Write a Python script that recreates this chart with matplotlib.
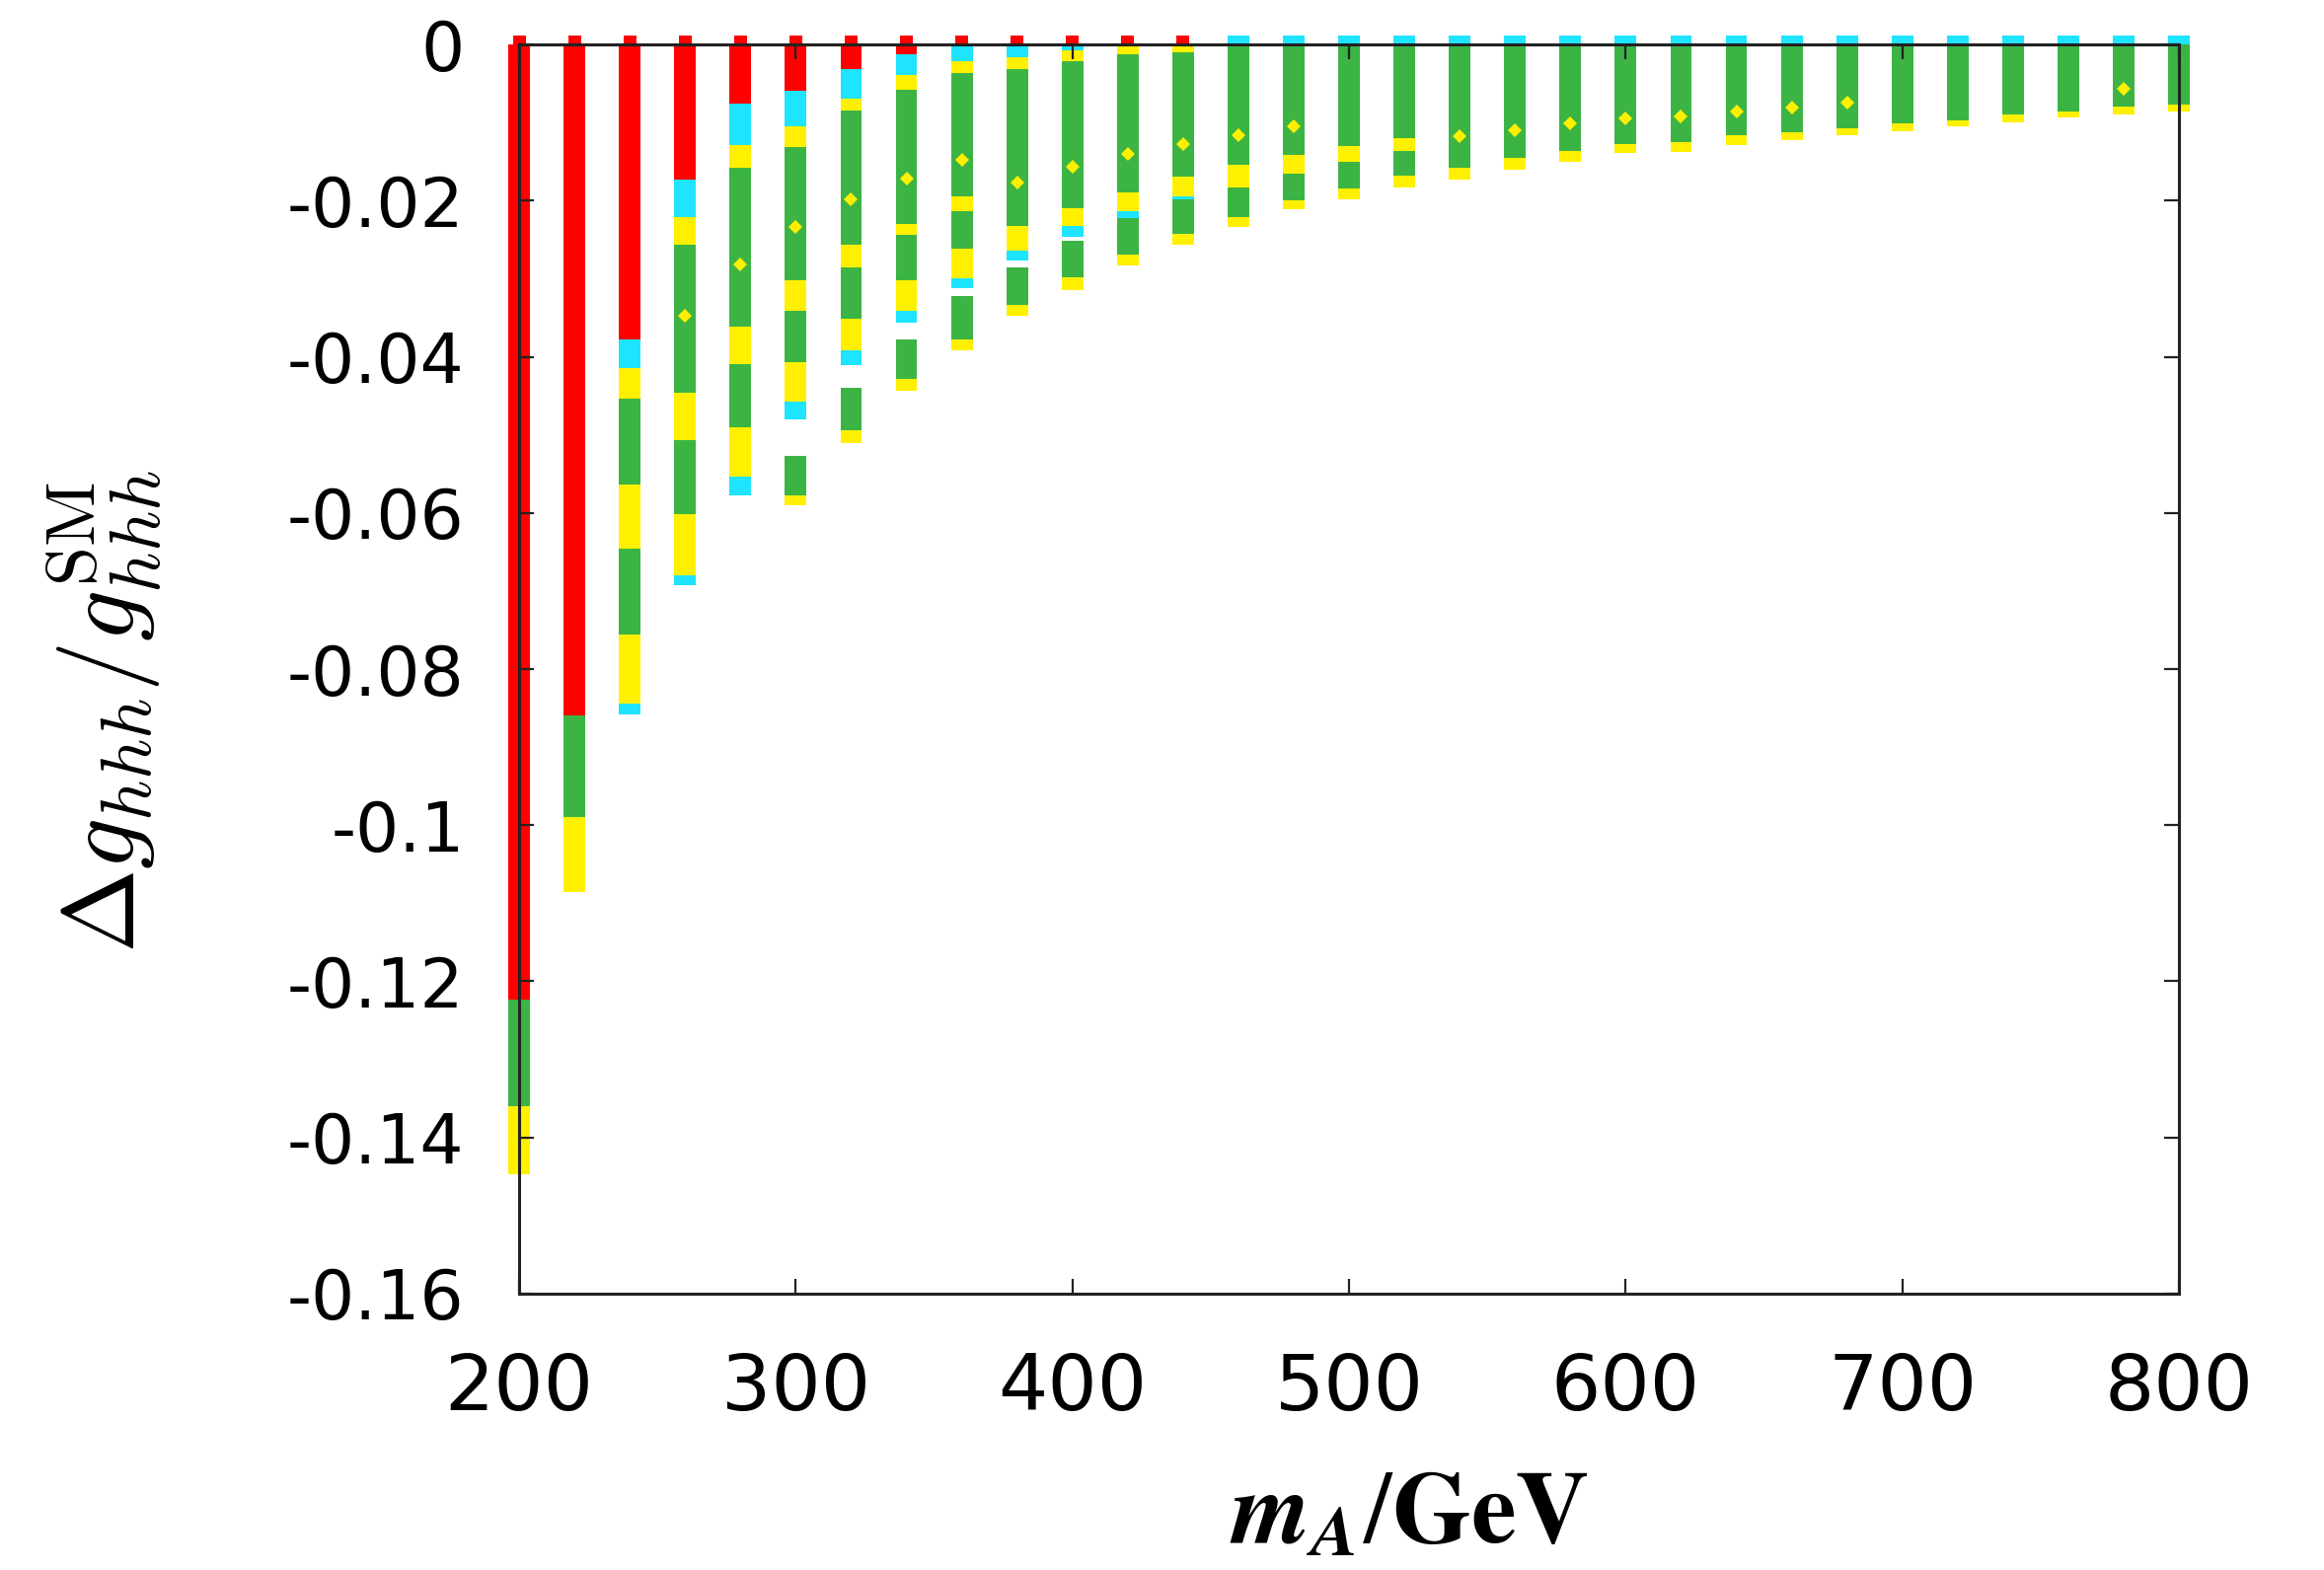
import matplotlib
matplotlib.use('Agg')
import matplotlib.pyplot as plt

# ---- data: (m_A, top, bottom) segments per colour ----
red_segs = [(200, 0, -0.1224), (220, 0, -0.0860), (240, 0, -0.0378), (260, 0, -0.0173),
            (280, 0, -0.0076), (300, 0, -0.0060), (320, 0, -0.0031), (340, 0, -0.0012),
            (360, 0, -0.0003)]
cyan_segs = [(240, -0.0378, -0.0415), (240, -0.0844, -0.0858),
             (260, -0.0173, -0.0221), (260, -0.0680, -0.0693),
             (280, -0.0076, -0.0129), (280, -0.0554, -0.0578),
             (300, -0.0060, -0.0105), (300, -0.0457, -0.0480),
             (320, -0.0031, -0.0070), (320, -0.0392, -0.0411),
             (340, -0.0012, -0.0039), (340, -0.0341, -0.0356),
             (360, -0.0003, -0.0022), (360, -0.0300, -0.0312),
             (380, 0, -0.0017), (380, -0.0264, -0.0277),
             (400, 0, -0.0007), (400, -0.0232, -0.0247),
             (420, -0.0213, -0.0223), (440, -0.0194, -0.0199)]
green_segs = [(200, -0.1224, -0.1360), (220, -0.0860, -0.0990),
              (240, -0.0454, -0.0564), (240, -0.0646, -0.0756),
              (260, -0.0257, -0.0446), (260, -0.0507, -0.0601),
              (280, -0.0158, -0.0362), (280, -0.0410, -0.0490),
              (300, -0.0131, -0.0302), (300, -0.0341, -0.0407), (300, -0.0527, -0.0578),
              (320, -0.0085, -0.0257), (320, -0.0286, -0.0351), (320, -0.0440, -0.0494),
              (340, -0.0058, -0.0230), (340, -0.0244, -0.0302), (340, -0.0378, -0.0428),
              (360, -0.0036, -0.0194), (360, -0.0213, -0.0261), (360, -0.0322, -0.0378),
              (380, -0.0031, -0.0232), (380, -0.0285, -0.0334),
              (400, -0.0022, -0.0210), (400, -0.0252, -0.0298),
              (420, -0.0012, -0.0189), (420, -0.0223, -0.0269),
              (440, -0.0010, -0.0169), (440, -0.0199, -0.0242),
              (460, 0, -0.0154), (460, -0.0183, -0.0221),
              (480, 0, -0.0141), (480, -0.0166, -0.0200),
              (500, 0, -0.0130), (500, -0.0150, -0.0185),
              (520, 0, -0.0120), (520, -0.0137, -0.0168),
              (540, 0, -0.0158), (560, 0, -0.0145), (580, 0, -0.0137), (600, 0, -0.0128),
              (620, 0, -0.0125), (640, 0, -0.0116), (660, 0, -0.0112), (680, 0, -0.0107),
              (700, 0, -0.0101), (720, 0, -0.0097), (740, 0, -0.0090), (760, 0, -0.0086),
              (780, 0, -0.0079), (800, 0, -0.0077)]
yellow_segs = [(200, -0.1360, -0.1447), (220, -0.0990, -0.1085),
               (240, -0.0415, -0.0454), (240, -0.0564, -0.0646), (240, -0.0756, -0.0844),
               (260, -0.0221, -0.0257), (260, -0.0446, -0.0507), (260, -0.0601, -0.0680),
               (280, -0.0129, -0.0158), (280, -0.0362, -0.0410), (280, -0.0490, -0.0554),
               (300, -0.0105, -0.0131), (300, -0.0302, -0.0341), (300, -0.0407, -0.0457), (300, -0.0578, -0.0590),
               (320, -0.0070, -0.0085), (320, -0.0257, -0.0286), (320, -0.0351, -0.0392), (320, -0.0494, -0.0511),
               (340, -0.0039, -0.0058), (340, -0.0230, -0.0244), (340, -0.0302, -0.0341), (340, -0.0428, -0.0443),
               (360, -0.0022, -0.0036), (360, -0.0194, -0.0213), (360, -0.0261, -0.0300), (360, -0.0378, -0.0392),
               (380, -0.0017, -0.0031), (380, -0.0232, -0.0264), (380, -0.0334, -0.0348),
               (400, -0.0007, -0.0022), (400, -0.0210, -0.0232), (400, -0.0298, -0.0315),
               (420, 0, -0.0012), (420, -0.0189, -0.0213), (420, -0.0269, -0.0283),
               (440, 0, -0.0010), (440, -0.0169, -0.0194), (440, -0.0242, -0.0257),
               (460, -0.0154, -0.0183), (460, -0.0221, -0.0234),
               (480, -0.0141, -0.0166), (480, -0.0200, -0.0211),
               (500, -0.0130, -0.0150), (500, -0.0185, -0.0198),
               (520, -0.0120, -0.0137), (520, -0.0168, -0.0183),
               (540, -0.0158, -0.0173), (560, -0.0145, -0.0160), (580, -0.0137, -0.0150),
               (600, -0.0128, -0.0139), (620, -0.0125, -0.0138), (640, -0.0116, -0.0129),
               (660, -0.0112, -0.0123), (680, -0.0107, -0.0116), (700, -0.0101, -0.0111),
               (720, -0.0097, -0.0105), (740, -0.0090, -0.0100), (760, -0.0086, -0.0094),
               (780, -0.0079, -0.0090), (800, -0.0077, -0.0086)]
# isolated yellow points inside the green bands
dot_mA = [260, 280, 300, 320, 340, 360, 380, 400, 420, 440, 460, 480, 540, 560, 580, 600, 620, 640, 660, 680, 780]
dot_y = [-0.0347, -0.0282, -0.0234, -0.0198, -0.0172, -0.0148, -0.0177, -0.0157, -0.0140, -0.0128,
         -0.0116, -0.0105, -0.0118, -0.0110, -0.0101, -0.0095, -0.0092, -0.0086, -0.0081, -0.0075, -0.0057]
# marker overflow above y=0
cap_red_mA = [200, 220, 240, 260, 280, 300, 320, 340, 360, 380, 400, 420, 440]
cap_cyan_mA = [460, 480, 500, 520, 540, 560, 580, 600, 620, 640, 660, 680, 700, 720, 740, 760, 780, 800]
cap_top = 0.0012

xticks = [200, 300, 400, 500, 600, 700, 800]
yticks = [0, -0.02, -0.04, -0.06, -0.08, -0.1, -0.12, -0.14, -0.16]
ytick_labels = ['0', '-0.02', '-0.04', '-0.06', '-0.08', '-0.1', '-0.12', '-0.14', '-0.16']

RED, CYAN, GREEN, YELLOW = '#ff0000', '#1ee4ff', '#3cb444', '#fff000'
W = 7.8

plt.rcParams['mathtext.fontset'] = 'cm'
fig = plt.figure(figsize=(23.55, 15.91), dpi=100)
ax = fig.add_axes([0.2234, 0.176, 0.7142, 0.7957])

for segs, col in [(red_segs, RED), (cyan_segs, CYAN), (green_segs, GREEN), (yellow_segs, YELLOW)]:
    xs = [s[0] for s in segs]
    tops = [s[1] for s in segs]
    bots = [s[2] for s in segs]
    ax.bar(xs, [t - b for t, b in zip(tops, bots)], bottom=bots, width=W,
           color=col, linewidth=0, clip_on=False, zorder=1)

ax.bar(cap_red_mA, [cap_top] * len(cap_red_mA), bottom=0, width=W * 0.6,
       color=RED, linewidth=0, clip_on=False, zorder=1)
ax.bar(cap_cyan_mA, [cap_top] * len(cap_cyan_mA), bottom=0, width=W,
       color=CYAN, linewidth=0, clip_on=False, zorder=1)
ax.plot(dot_mA, dot_y, 'D', color=YELLOW, markersize=7, markeredgewidth=0, zorder=1.5)

ax.set_xlim(200, 800)
ax.set_ylim(-0.16, 0)
ax.set_xticks(xticks)
ax.set_xticklabels([str(v) for v in xticks])
ax.set_yticks(yticks)
ax.set_yticklabels(ytick_labels)
ax.tick_params(direction='in', length=11, width=1.6, top=True, right=True, color='#222222')
ax.tick_params(axis='x', labelsize=57, pad=42)
ax.tick_params(axis='y', labelsize=50, pad=40)
for sp in ax.spines.values():
    sp.set_linewidth(2.2)
    sp.set_color('#222222')
    sp.set_zorder(3)

ax.set_xlabel(r'$\mathbfit{m}_{\mathbfit{A}}/\mathbf{GeV}$', fontsize=74, math_fontfamily='stix')
ax.xaxis.set_label_coords(0.536, -0.137)
ax.set_ylabel(r'$\Delta g_{hhh}/g_{hhh}^{\rm SM}$', fontsize=74)
ax.yaxis.set_label_coords(-0.214, 0.466)

fig.savefig('out.png', dpi=100, facecolor='white')
